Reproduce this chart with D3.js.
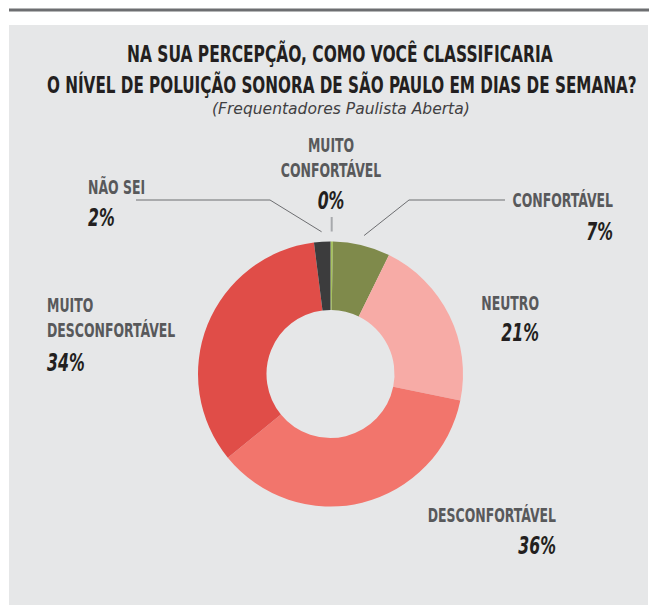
<!DOCTYPE html>
<html>
<head>
<meta charset="utf-8">
<script src="https://cdn.jsdelivr.net/npm/d3@7"></script>
<style>
  body { margin: 0; background: #fff; }
  svg { display: block; }
</style>
</head>
<body>
<div id="chart"></div>
<script>
// data (clockwise from 12 o'clock)
var categories = ["MUITO CONFORTÁVEL", "CONFORTÁVEL", "NEUTRO", "DESCONFORTÁVEL", "MUITO DESCONFORTÁVEL", "NÃO SEI"];
var values = [0.3, 7, 21, 36, 34, 2];
var colors = ["#a5c25c", "#7f8a4b", "#f7aba6", "#f2756c", "#e04d48", "#3c3c3d"];
var titleLines = ["NA SUA PERCEPÇÃO, COMO VOCÊ CLASSIFICARIA", "O NÍVEL DE POLUIÇÃO SONORA DE SÃO PAULO EM DIAS DE SEMANA?"];
var subtitle = "(Frequentadores Paulista Aberta)";

var w = 649, h = 605;
var cx = 330.5, cy = 374, rOut = 132.5, rIn = 64;

var svg = d3.select("#chart").append("svg")
  .attr("width", w).attr("height", h);

// frame
svg.append("rect").attr("x", 9).attr("y", 8.5).attr("width", w - 9).attr("height", 3).attr("fill", "#6d6e71");
svg.append("rect").attr("x", 9).attr("y", 25).attr("width", 639).attr("height", 580).attr("fill", "#e6e7e8");

var condensed = "'DejaVu Sans Condensed', 'Liberation Sans Narrow', sans-serif";

// squeeze a text horizontally so it spans `target` px (the original face is a narrow DIN)
function squeeze(sel, x, y, target) {
  var len = sel.node().getComputedTextLength();
  sel.attr("transform", "translate(" + x + "," + y + ") scale(" + (target / len) + ",1)");
}
function narrow(sel, x, y, k) {
  sel.attr("transform", "translate(" + x + "," + y + ") scale(" + k + ",1)");
}

// title
var titleX = [127, 47], titleY = [61.5, 93], titleW = [426, 590];
titleLines.forEach(function(t, i) {
  var tx = svg.append("text")
    .style("font-family", condensed).style("font-weight", "bold").style("font-size", "22.5px")
    .style("fill", "#231f20")
    .text(t);
  squeeze(tx, titleX[i], titleY[i], titleW[i]);
});

var sub = svg.append("text")
  .style("font-family", condensed).style("font-style", "italic").style("font-size", "16px")
  .style("fill", "#414042")
  .text(subtitle);
squeeze(sub, 212, 113.5, 258);

// donut
var pie = d3.pie().sort(null).value(function(d) { return d; });
var arcs = pie(values);
var arc = d3.arc().innerRadius(rIn).outerRadius(rOut);

var g = svg.append("g").attr("transform", "translate(" + cx + "," + cy + ")");
g.selectAll("path").data(arcs).enter().append("path")
  .attr("d", arc)
  .attr("fill", function(d, i) { return colors[i]; });

// label layout: anchor point, alignment, baselines (name lines, then percent)
var labelPos = [
  { x: 331, anchor: "middle", lines: ["MUITO", "CONFORTÁVEL"], ys: [152, 177], py: 209 },
  { x: 613, anchor: "end",    lines: ["CONFORTÁVEL"], ys: [207], py: 240 },
  { x: 539, anchor: "end",    lines: ["NEUTRO"], ys: [310], py: 341 },
  { x: 556, anchor: "end",    lines: ["DESCONFORTÁVEL"], ys: [522], py: 554 },
  { x: 47,  anchor: "start",  lines: ["MUITO", "DESCONFORTÁVEL"], ys: [312, 337], py: 371 },
  { x: 88,  anchor: "start",  lines: ["NÃO SEI"], ys: [194], py: 226 }
];

var labels = svg.selectAll("g.label").data(arcs).enter().append("g").attr("class", "label");
labels.each(function(d, i) {
  var p = labelPos[i], sel = d3.select(this);
  p.lines.forEach(function(t, j) {
    var tx = sel.append("text")
      .attr("text-anchor", p.anchor)
      .style("font-family", condensed).style("font-weight", "bold").style("font-size", "19.5px")
      .style("fill", "#58595b")
      .text(t);
    narrow(tx, p.x, p.ys[j], 0.71);
  });
  var pc = sel.append("text")
    .attr("text-anchor", p.anchor)
    .style("font-family", condensed).style("font-weight", "bold").style("font-style", "italic")
    .style("font-size", "25px")
    .style("fill", "#231f20")
    .text(Math.round(d.data) + "%");
  narrow(pc, p.x, p.py, 0.7);
});

// leader lines start just outside the ring at the slice's mid angle
function edge(d, r) {
  var a = (d.startAngle + d.endAngle) / 2;
  return [cx + Math.sin(a) * r, cy - Math.cos(a) * r];
}
var leaders = [
  { i: 0, pts: [[331.7, 217]], color: "#a7a9ac", width: 2 },
  { i: 1, pts: [[409, 200], [505, 200]], color: "#6d6e71", width: 1 },
  { i: 5, pts: [[270, 200], [136, 200]], color: "#6d6e71", width: 1 }
];
var line = d3.line();
svg.selectAll("path.leader").data(leaders).enter().append("path")
  .attr("class", "leader")
  .attr("d", function(l) {
    var start = edge(arcs[l.i], rOut + 10);
    if (l.i === 0) start[0] = l.pts[0][0];
    return line([start].concat(l.pts));
  })
  .attr("fill", "none")
  .attr("stroke", function(l) { return l.color; })
  .attr("stroke-width", function(l) { return l.width; });
</script>
</body>
</html>
